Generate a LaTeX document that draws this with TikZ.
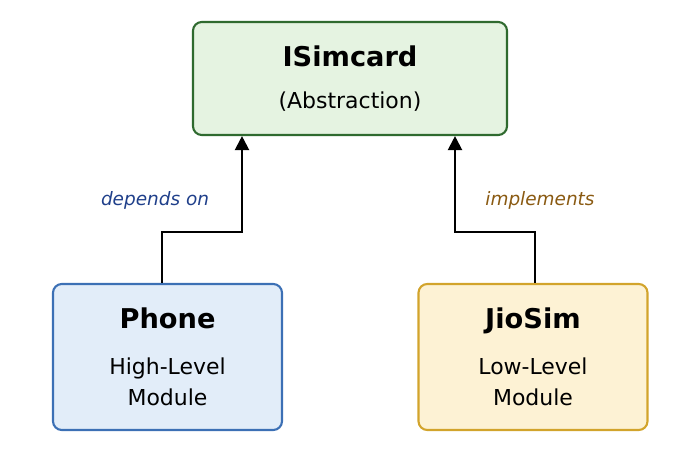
\documentclass[tikz,border=0pt]{standalone}
\usepackage{fontspec}
\setmainfont{DejaVu Sans}
\usetikzlibrary{arrows.meta, positioning}
\definecolor{absfill}{HTML}{E5F3E1}
\definecolor{absdraw}{HTML}{2F6A2F}
\definecolor{hifill}{HTML}{E2EDF9}
\definecolor{hidraw}{HTML}{3C70B5}
\definecolor{lofill}{HTML}{FDF2D4}
\definecolor{lodraw}{HTML}{D2A42C}
\definecolor{deptext}{HTML}{1F3F8A}
\definecolor{imptext}{HTML}{8A5A12}
\begin{document}
\begin{tikzpicture}[
    box/.style={draw, rounded corners=5pt, line width=1.2pt, align=center,
      font=\fontsize{12.5}{18}\selectfont},
    link/.style={-{Triangle[length=8pt, width=8pt]}, line width=1.2pt},
    lbl/.style={font=\itshape\fontsize{10.5}{12}\selectfont}
  ]
  \useasboundingbox (0,0) rectangle (14,9.34);

  % ------------------ Abstraction ------------------
  \node[box, fill=absfill, draw=absdraw, minimum width=6.28cm, minimum height=2.26cm] (sim) at (7,7.77)
    {{\fontsize{15.5}{18}\selectfont\bfseries ISimcard}\\[6pt](Abstraction)};

  % ------------------ Modules ------------------
  \node[box, fill=hifill, draw=hidraw, minimum width=4.58cm, minimum height=2.92cm] (phone) at (3.35,2.2)
    {{\fontsize{15.5}{18}\selectfont\bfseries Phone}\\[8pt]High-Level\\Module};
  \node[box, fill=lofill, draw=lodraw, minimum width=4.58cm, minimum height=2.92cm] (jio) at (10.66,2.2)
    {{\fontsize{15.5}{18}\selectfont\bfseries JioSim}\\[8pt]Low-Level\\Module};

  % Arrows
  \coordinate (pbend) at (3.24,4.7);
  \coordinate (jbend) at (10.7,4.7);
  \draw[link] (phone.north -| pbend) -- (pbend) -- (4.84,4.7) -- (4.84,0 |- sim.south);
  \draw[link] (jio.north -| jbend) -- (jbend) -- (9.1,4.7) -- (9.1,0 |- sim.south);

  % Labels
  \node[lbl, text=deptext] (dep) at (3.1,5.34) {depends on};
  \node[lbl, text=imptext] (imp) at (10.8,5.34) {implements};
\end{tikzpicture}
\end{document}
